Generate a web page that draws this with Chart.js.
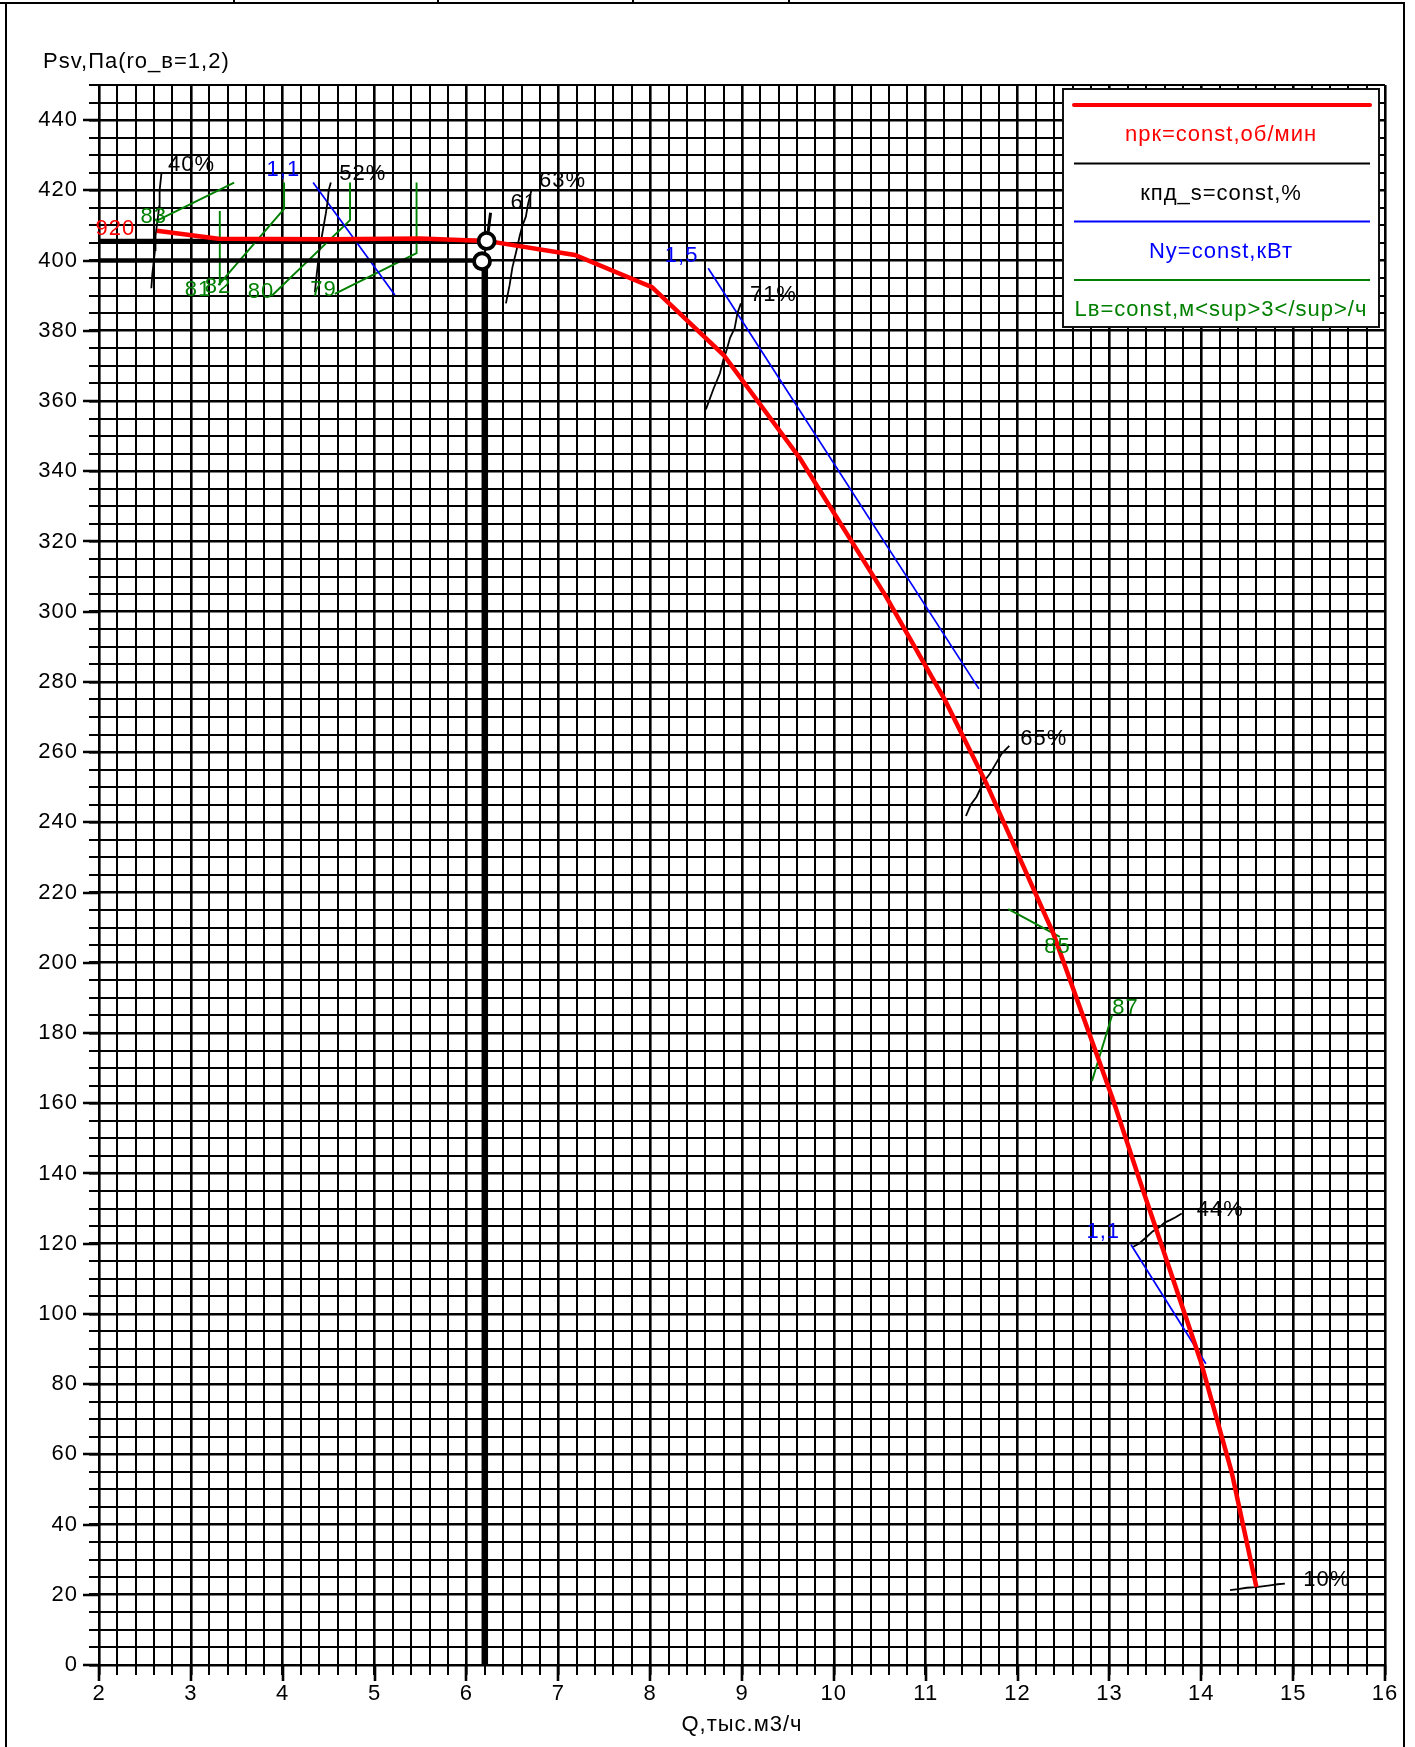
<!DOCTYPE html>
<html>
<head>
<meta charset="utf-8">
<script src="https://cdn.jsdelivr.net/npm/chart.js@4.4.1/dist/chart.umd.min.js"></script>
<style>
  html, body { margin: 0; padding: 0; background: #fff; overflow: hidden; }
  canvas { display: block; }
</style>
</head>
<body>
<canvas id="c" width="1415" height="1747" style="width:1415px;height:1747px"></canvas>
<script>
// ---------- data ----------
const qTickValues = [2, 3, 4, 5, 6, 7, 8, 9, 10, 11, 12, 13, 14, 15, 16];
const pTickValues = [0, 20, 40, 60, 80, 100, 120, 140, 160, 180, 200, 220, 240, 260, 280, 300, 320, 340, 360, 380, 400, 420, 440];

// fan curve n = const (920)
const flowQ = [2.63, 3.3, 4.5, 5.5, 6.22, 7.18, 8.02, 8.8, 9.63, 10.57, 11.21, 11.66, 12.39, 13.04, 13.33, 13.99, 14.33, 14.6];
const pressurePsv = [408.5, 406.2, 406.1, 406.3, 405.6, 401.6, 392.4, 373.1, 343.7, 304.2, 274.8, 251.1, 208.3, 160.9, 138.0, 86.8, 55.0, 22.2];

// efficiency iso-lines (black)
const eff40 = [[2.57,392.1],[2.58,396],[2.61,403],[2.615,407],[2.64,412],[2.655,415.4],[2.66,420],[2.68,424.9]];
const eff52 = [[4.35,391],[4.37,396],[4.40,403],[4.42,406],[4.44,409],[4.47,413.5],[4.49,417],[4.50,420],[4.524,422.2]];
const eff61 = [[6.237,408.2],[6.25,411],[6.263,413.6]];
const eff63 = [[6.43,387.8],[6.47,393],[6.50,398],[6.546,403],[6.58,407],[6.61,410],[6.647,412.5],[6.67,416],[6.71,420.3]];
const eff71 = [[8.607,357.6],[8.69,363.5],[8.76,367.9],[8.80,372],[8.833,374.5],[8.87,378],[8.92,380.7],[8.95,385],[8.988,387.8]];
const eff65 = [[11.438,241.8],[11.49,245],[11.554,247.3],[11.63,251.5],[11.70,253.9],[11.77,257],[11.827,259.6],[11.91,261.8]];
const eff44 = [[13.26,119.1],[13.32,120],[13.405,121.9],[13.47,123.5],[13.55,124.8],[13.6,126],[13.66,126.7],[13.72,127.5],[13.787,128.6]];
const eff10 = [[14.313,21.3],[14.4,21.6],[14.494,22.0],[14.6,22.2],[14.748,22.7],[14.83,23],[14.91,23.2]];

// power iso-lines (blue)
const pow11a = [[4.331,422.2],[5.221,390.2]];
const pow15 = [[8.632,397.8],[11.58,278.0]];
const pow11b = [[13.235,119.7],[14.05,85.8]];

// volume iso-lines (green)
const vol83 = [[2.626,411.3],[3.471,422.2]];
const vol81 = [[3.315,414.1],[3.315,393.0]];
const vol82 = [[4.015,422.2],[4.015,414.7],[3.30,393.0]];
const vol80 = [[4.733,422.2],[4.733,411.5],[3.878,389.9]];
const vol79 = [[5.457,422.2],[5.457,402.1],[4.567,390.5]];
const vol85 = [[11.9,215.3],[12.46,207.4]];
const vol87 = [[12.81,166.3],[13.03,185.1]];

// operating point construction
const opLineHigh = [[2,405.6],[6.22,405.6]];
const opLineLow = [[2,400],[6.17,400]];
const opVertical = [[6.2,0],[6.2,400]];
const opPoints = [[6.22,405.6],[6.17,399.8]];

// curve labels: text, x (left of text, Q units), y (centre, Pa)
const effLabels = [['40%',2.752,427.2],['52%',4.615,424.6],['61',6.48,416.5],['63%',6.79,422.8],['71%',9.086,390.2],['65%',12.03,263.7],['44%',13.95,129.7],['10%',15.11,24.1]];
const powLabels = [['1,1',3.824,425.8],['1,5',8.16,401.3],['1,1',12.75,123.3]];
const volLabels = [['83',2.452,412.3],['81',2.934,391.6],['82',3.152,392.6],['80',3.62,391.2],['79',4.30,391.6],['85',12.29,204.5],['87',13.03,187.0]];
const speedLabels = [['920',1.963,408.9]];

const legendLabels = ['nрк=const,об/мин', 'кпд_s=const,%', 'Ny=const,кВт', 'Lв=const,м<sup>3</sup>/ч'];
const legendColors = ['#ff0000', '#000000', '#0000ff', '#008000'];
const yTitle = 'Psv,Па(ro_в=1,2)';
const xTitle = 'Q,тыс.м3/ч';

// ---------- helpers ----------
const FONT_FAMILY = '"Liberation Sans", Arial, sans-serif';
const FONT_SIZE = 22;
const RED = '#ff0000', BLUE = '#0000ff', GREEN = '#008000', BLACK = '#000000';
const toPts = arr => arr.map(([x, y]) => ({x, y}));
function lineDs(arr, color, width) {
  return { data: toPts(arr), borderColor: color, borderWidth: width, pointRadius: 0,
           pointHoverRadius: 0, fill: false, tension: 0, showLine: true };
}
const near = (v, list) => list.some(t => Math.abs(t - v) < 1e-6);

const datasets = [
  { data: toPts(opPoints), showLine: false, pointRadius: 8, pointHoverRadius: 8,
    pointBorderWidth: 3.8, pointBackgroundColor: '#ffffff', pointBorderColor: BLACK },
  lineDs(flowQ.map((q, i) => [q, pressurePsv[i]]), RED, 4.5),
  lineDs(opLineHigh, BLACK, 4.5),
  lineDs(opLineLow, BLACK, 4.5),
  lineDs(opVertical, BLACK, 6.5),
  lineDs(eff61, BLACK, 3),
  ...[eff40, eff52, eff63, eff71, eff65, eff44, eff10].map(a => lineDs(a, BLACK, 1.8)),
  ...[pow11a, pow15, pow11b].map(a => lineDs(a, BLUE, 1.7)),
  ...[vol83, vol81, vol82, vol80, vol79, vol85, vol87].map(a => lineDs(a, GREEN, 1.9))
];

const paperPlugin = {
  id: 'paper',
  beforeDraw(chart) {
    const c = chart.ctx;
    c.letterSpacing = '1px';
    c.save();
    c.fillStyle = '#fff';
    c.fillRect(0, 0, chart.width, chart.height);
    c.strokeStyle = BLACK;
    c.lineWidth = 2;
    c.beginPath();
    c.moveTo(0, 3); c.lineTo(1405, 3);
    c.moveTo(6, 3); c.lineTo(6, chart.height);
    c.moveTo(1404, 3); c.lineTo(1404, chart.height);
    [234, 438, 633, 789].forEach(x => { c.moveTo(x, 0); c.lineTo(x, 3); });
    c.stroke();
    c.restore();
  },
  afterDraw(chart) {
    const c = chart.ctx, xs = chart.scales.x, ys = chart.scales.y, area = chart.chartArea;
    c.save();
    c.letterSpacing = '1px';
    // longer tick marks at labelled values
    c.strokeStyle = BLACK;
    c.lineWidth = 2.6;
    c.beginPath();
    qTickValues.forEach(v => {
      const px = Math.round(xs.getPixelForValue(v));
      c.moveTo(px, area.bottom); c.lineTo(px, area.bottom + 16);
    });
    pTickValues.forEach(v => {
      const py = Math.round(ys.getPixelForValue(v));
      c.moveTo(area.left, py); c.lineTo(area.left - 16, py);
    });
    c.stroke();

    c.font = FONT_SIZE + 'px ' + FONT_FAMILY;
    c.textBaseline = 'middle';
    // axis titles
    c.fillStyle = BLACK;
    c.textAlign = 'left';
    c.fillText(yTitle, 43, 62);
    c.textAlign = 'center';
    c.fillText(xTitle, (area.left + area.right) / 2, 1725);

    // curve labels
    c.textAlign = 'left';
    const drawLabels = (list, color) => {
      c.fillStyle = color;
      list.forEach(([t, x, y]) => c.fillText(t, xs.getPixelForValue(x), ys.getPixelForValue(y)));
    };
    drawLabels(effLabels, BLACK);
    drawLabels(powLabels, BLUE);
    drawLabels(volLabels, GREEN);
    drawLabels(speedLabels, RED);

    // legend box
    const bx = 1063, by = 89, bw = 316, bh = 238;
    c.fillStyle = '#fff';
    c.fillRect(bx, by, bw, bh);
    c.strokeStyle = '#111';
    c.lineWidth = 2;
    c.strokeRect(bx, by, bw, bh);
    const lineYs = [105, 163.5, 221.5, 280];
    const textYs = [135, 194, 252, 310];
    const lineWs = [4, 1.8, 2, 2];
    legendLabels.forEach((t, i) => {
      c.strokeStyle = legendColors[i];
      c.lineWidth = lineWs[i];
      c.lineCap = i === 0 ? 'round' : 'butt';
      c.beginPath();
      c.moveTo(1074, lineYs[i]); c.lineTo(1370, lineYs[i]);
      c.stroke();
      c.fillStyle = legendColors[i];
      c.textAlign = 'center';
      c.fillText(t, bx + bw / 2, textYs[i]);
    });
    c.restore();
  }
};

const tickFont = { family: FONT_FAMILY, size: FONT_SIZE };
const chart = new Chart(document.getElementById('c').getContext('2d'), {
  type: 'line',
  data: { datasets },
  options: {
    responsive: false,
    animation: false,
    events: [],
    layout: { padding: { left: 0, top: 85, right: 30, bottom: 0 } },
    scales: {
      x: {
        type: 'linear', min: 2, max: 16,
        ticks: {
          stepSize: 0.2, autoSkip: false, maxRotation: 0, minRotation: 0,
          color: BLACK, font: tickFont, padding: 6,
          callback: v => near(v, qTickValues) ? String(Math.round(v)) : ''
        },
        grid: {
          color: BLACK, tickLength: 10,
          lineWidth: ctx => (ctx.tick && near(ctx.tick.value, qTickValues)) ? 2.6 : 2
        },
        border: { color: BLACK, width: 2 },
        afterFit: s => { s.height = 82; }
      },
      y: {
        type: 'linear', min: 0, max: 450,
        ticks: {
          stepSize: 5, autoSkip: false, color: BLACK, font: tickFont, padding: 11,
          callback: v => near(v, pTickValues) ? String(Math.round(v)) : ''
        },
        grid: {
          color: BLACK, tickLength: 10,
          lineWidth: ctx => (ctx.tick && near(ctx.tick.value, pTickValues)) ? 2.6 : 2
        },
        border: { color: BLACK, width: 2 },
        afterFit: s => { s.width = 99; }
      }
    },
    plugins: { legend: { display: false }, tooltip: { enabled: false }, title: { display: false } }
  },
  plugins: [paperPlugin]
});
</script>
</body>
</html>
